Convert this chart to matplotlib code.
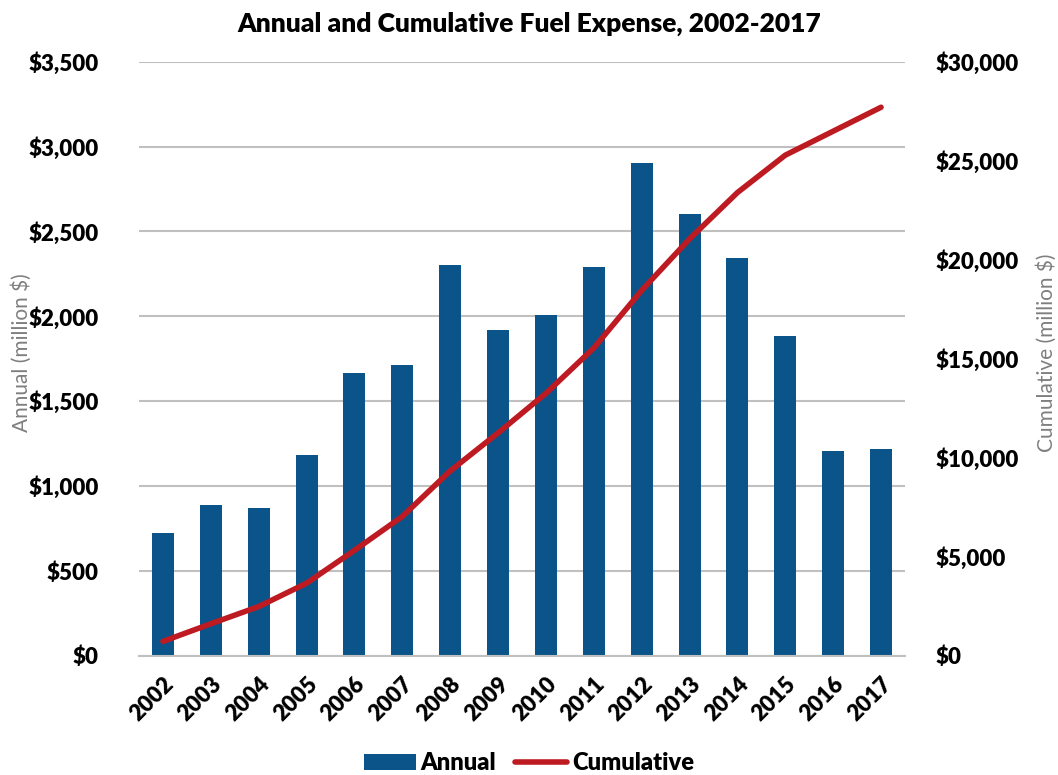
import matplotlib
matplotlib.use("Agg")
from matplotlib import pyplot as plt
from matplotlib.ticker import FuncFormatter
import numpy as np

years = ['2002', '2003', '2004', '2005', '2006', '2007', '2008', '2009',
         '2010', '2011', '2012', '2013', '2014', '2015', '2016', '2017']
annual = [721, 886, 868, 1182, 1663, 1712, 2301, 1916,
          2005, 2289, 2903, 2600, 2346, 1885, 1207, 1216]
cumulative = [720, 1610, 2480, 3660, 5320, 7030, 9330, 11250,
              13250, 15540, 18450, 21050, 23390, 25280, 26490, 27700]

bar_color = '#0B5489'
line_color = '#BE1A22'
grid_color = '#C0C0C0'

plt.rcParams['font.family'] = ['Lato', 'DejaVu Sans']

fig = plt.figure(figsize=(10.58, 7.75), dpi=100)
ax = fig.add_axes([0.1314, 0.154, 0.724, 0.7664])
ax2 = ax.twinx()

x = np.arange(len(years))
ax.bar(x, annual, width=0.46, color=bar_color, label='Annual', zorder=2)
ax2.plot(x, cumulative, color=line_color, lw=4, solid_capstyle='round', label='Cumulative', zorder=3)

ax.set_xlim(-0.5, len(years) - 0.5)
ax.set_ylim(0, 3500)
ax2.set_ylim(0, 30000)
ax.set_yticks(np.arange(0, 3501, 500))
ax2.set_yticks(np.arange(0, 30001, 5000))

money = FuncFormatter(lambda v, p: '${:,.0f}'.format(v))
ax.yaxis.set_major_formatter(money)
ax2.yaxis.set_major_formatter(money)

ax.grid(axis='y', color=grid_color, lw=1.5, zorder=0)
ax.set_axisbelow(True)
for a in (ax, ax2):
    for s in a.spines.values():
        s.set_visible(False)
    a.tick_params(length=0)
ax.spines['bottom'].set_visible(True)
ax.spines['bottom'].set_color(grid_color)
ax.spines['bottom'].set_linewidth(1.5)

ax.set_xticks(x)
ax.set_xticklabels(years, rotation=45, ha='right', rotation_mode='anchor',
                   fontsize=16, fontweight='heavy')
ax.tick_params(axis='x', pad=13)
ax.tick_params(axis='y', pad=29, labelsize=16)
ax2.tick_params(axis='y', pad=22, labelsize=16)
for lab in ax.get_yticklabels() + ax2.get_yticklabels():
    lab.set_fontweight('heavy')

ax.set_ylabel('Annual (million $)', fontsize=15, color='#7F7F7F')
ax2.set_ylabel('Cumulative (million $)', fontsize=15, color='#7F7F7F')
ax.yaxis.set_label_coords(-0.14, 0.51)
ax2.yaxis.set_label_coords(1.171, 0.51)

fig.suptitle('Annual and Cumulative Fuel Expense, 2002-2017', y=0.985,
             fontsize=19, fontweight='heavy')

h1, l1 = ax.get_legend_handles_labels()
h2, l2 = ax2.get_legend_handles_labels()
leg = fig.legend(h1 + h2, l1 + l2, loc='center', bbox_to_anchor=(0.5, 0.015),
                 ncol=2, frameon=False, prop={'weight': 'heavy', 'size': 17},
                 handlelength=2.2, columnspacing=0.8, handletextpad=0.2)

fig.savefig('out.png', dpi=100)
